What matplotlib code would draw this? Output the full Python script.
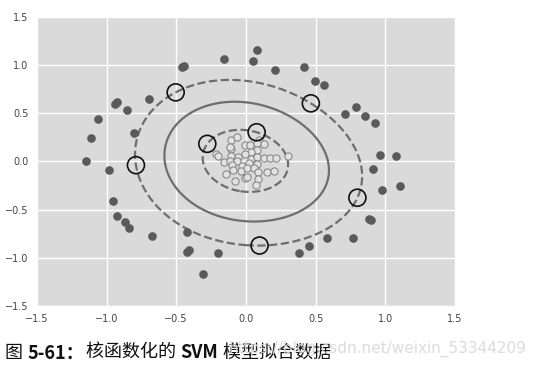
import numpy as np
import matplotlib.pyplot as plt

# outer ring (class 1)
outer_x = [0.077, 0.048, -0.16, -0.447, -0.457, -0.693, -0.922, -0.939, -0.853, -1.063,
           -1.111, -0.803, -1.145, -0.984, 0.206, 0.418, 0.497, 0.559, 0.712, 0.793,
           0.858, 0.927, 0.965, 1.078, 0.915, 0.975, 1.104, 0.882, 0.898, 0.585,
           0.767, 0.454, 0.378, -0.956, -0.922, -0.867, -0.836, -0.672, -0.421, -0.423,
           -0.409, -0.199, -0.31]
outer_y = [1.158, 1.04, 1.058, 0.986, 0.975, 0.644, 0.613, 0.593, 0.534, 0.438,
           0.245, 0.293, 0.01, -0.086, 0.951, 0.975, 0.834, 0.796, 0.496, 0.562,
           0.476, 0.40, 0.069, 0.052, -0.083, -0.293, -0.251, -0.60, -0.61, -0.79,
           -0.793, -0.872, -0.948, -0.414, -0.566, -0.624, -0.693, -0.772, -0.731, -0.941,
           -0.92, -0.948, -1.165]

# inner cluster (class 0)
inner_x = [-0.108, -0.065, -0.005, 0.026, 0.096, 0.131, 0.081, 0.081, 0.038, -0.108,
           -0.217, -0.203, -0.156, -0.11, -0.055, -0.005, 0.036, 0.081, -0.117, -0.062,
           0.022, 0.077, 0.129, 0.172, 0.217, 0.303, -0.103, -0.091, -0.029, -0.036,
           0.005, 0.057, 0.084, 0.153, 0.203, -0.079, -0.005, 0.086, 0.074, -0.115,
           0.005, -0.14]
inner_y = [0.224, 0.259, 0.172, 0.176, 0.224, 0.179, 0.19, 0.114, 0.096, 0.127,
           0.08, 0.052, -0.01, 0.052, 0.044, 0.08, 0.028, 0.044, 0.01, 0.003,
           -0.013, -0.031, 0.031, 0.031, 0.031, 0.052, -0.038, -0.09, -0.045, -0.103,
           -0.072, -0.065, -0.107, -0.107, -0.1, -0.204, -0.172, -0.186, -0.245, 0.148,
           -0.162, -0.13]

# support vectors (circled)
sv_x = [-0.504, -0.789, 0.466, 0.80, 0.098, -0.277, 0.077]
sv_y = [0.717, -0.038, 0.603, -0.376, -0.872, 0.183, 0.303]
sv_label = [1, 1, 1, 1, 1, -1, -1]

ticks = [-1.5, -1.0, -0.5, 0.0, 0.5, 1.0, 1.5]

# rbf decision function through the support vectors
gamma = 0.5
S = np.column_stack([sv_x, sv_y])
yl = np.array(sv_label, dtype=float)
K = np.exp(-gamma * ((S[:, None, :] - S[None, :, :]) ** 2).sum(-1))
n = len(yl)
A = np.zeros((n + 1, n + 1))
A[:n, :n] = K * yl[None, :]
A[:n, n] = 1
A[n, :n] = yl
rhs = np.append(yl, 0)
sol = np.linalg.solve(A, rhs)
alpha, b = sol[:n], sol[n]

gx, gy = np.meshgrid(np.linspace(-1.5, 1.5, 300), np.linspace(-1.5, 1.5, 300))
P = np.column_stack([gx.ravel(), gy.ravel()])
KP = np.exp(-gamma * ((P[:, None, :] - S[None, :, :]) ** 2).sum(-1))
Z = (KP @ (alpha * yl) + b).reshape(gx.shape)

fig = plt.figure(figsize=(5.34, 3.67), dpi=100)
ax = fig.add_axes([0.069, 0.166, 0.783, 0.788])
ax.set_facecolor('#dadada')
ax.grid(True, color='white', linewidth=1)
ax.set_axisbelow(True)
for s in ax.spines.values():
    s.set_visible(False)

ax.contour(gx, gy, Z, levels=[-1, 0, 1], colors='#6e6e6e',
           linestyles=['--', '-', '--'], linewidths=1.6)
ax.scatter(outer_x, outer_y, s=27, color='#5a5a5a', zorder=3)
ax.scatter(inner_x, inner_y, s=27, facecolor='#e2e2e2', edgecolor='#8a8a8a',
           linewidth=0.8, zorder=3)
ax.scatter(sv_x, sv_y, s=150, facecolor='none', edgecolor='#111111',
           linewidth=1.2, zorder=4)

ax.set_xlim(-1.5, 1.5)
ax.set_ylim(-1.5, 1.5)
ax.set_xticks(ticks)
ax.set_yticks(ticks)
ax.tick_params(length=0, labelsize=7, labelcolor='#444444', pad=6)

# caption
fam = ['Noto Sans CJK SC', 'DejaVu Sans']
parts = [('图 ', 'normal'), ('5-61：', 'bold'), ('核函数化的 ', 'normal'),
         ('SVM', 'bold'), (' 模型拟合数据', 'normal')]
fig.canvas.draw()
r = fig.canvas.get_renderer()
xp = 5
for txt, w in parts:
    t = fig.text(xp / 534, 1 - 353 / 367, txt, fontsize=13, family=fam,
                 weight=w, va='center', ha='left', color='#111111')
    xp = t.get_window_extent(r).x1 + 1
fig.text(527 / 534, 1 - 349 / 367, 'https://blog.csdn.net/weixin_53344209',
         fontsize=11, color='#d8d8d8', ha='right', va='center', alpha=0.9)

fig.savefig('out.png', dpi=100)
